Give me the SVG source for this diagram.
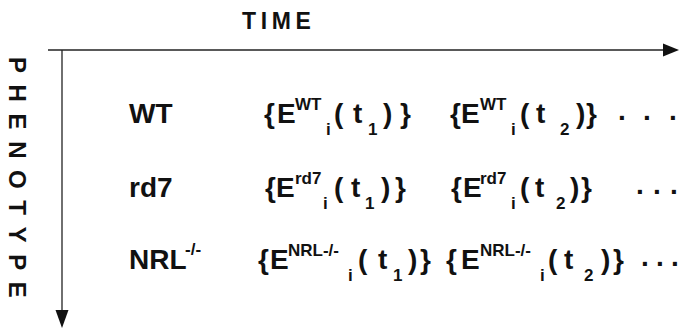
<svg xmlns="http://www.w3.org/2000/svg" width="679" height="329" viewBox="0 0 679 329">
<style>
text{font-family:"Liberation Sans",Arial,sans-serif;fill:#111;font-weight:bold}
.ax{font-size:23px}
.ph{font-size:24px}
.lab{font-size:28px}
.m{font-size:28px}
.s{font-size:17px}
.dot{font-size:28px}
.line{stroke:#222;stroke-width:1.3;fill:none}
.head{fill:#111}
</style>
<rect width="679" height="329" fill="#fff"/>
<g id="connectors">
<line class="line" x1="48" y1="50" x2="666" y2="50"/>
<polygon class="head" points="663,43.5 679,50 663,56.5"/>
<line class="line" x1="62" y1="50" x2="62" y2="313"/>
<polygon class="head" points="55.5,310 62,328 68.5,310"/>
</g>
<g id="time-axis">
<text class="ax" x="242" y="28.5" letter-spacing="4.6">TIME</text>
</g>
<g id="phenotype-axis">
<text class="ph" transform="translate(9,57) rotate(90)" letter-spacing="11.6">PHENOTYPE</text>
</g>
<g id="row-wt">
<text class="lab" x="129" y="123">WT</text>
<text y="123"><tspan class="m" x="264 277">{E</tspan><tspan class="s" x="295" y="110">WT</tspan><tspan class="s" x="326" y="135">i</tspan><tspan class="m" x="334 353" y="123">(t</tspan><tspan class="s" x="368" y="135">1</tspan><tspan class="m" x="383 400" y="123">)}</tspan></text>
<text y="123"><tspan class="m" x="450 461">{E</tspan><tspan class="s" x="480" y="110">WT</tspan><tspan class="s" x="511" y="135">i</tspan><tspan class="m" x="520 536" y="123">(t</tspan><tspan class="s" x="560" y="135">2</tspan><tspan class="m" x="576 586" y="123">)}</tspan></text>
<text class="dot" x="618 643 669" y="120">...</text>
</g>
<g id="row-rd7">
<text class="lab" x="129" y="197">rd7</text>
<text y="197"><tspan class="m" x="265 276">{E</tspan><tspan class="s" x="295" y="184">rd7</tspan><tspan class="s" x="323" y="209">i</tspan><tspan class="m" x="334 351" y="197">(t</tspan><tspan class="s" x="365" y="209">1</tspan><tspan class="m" x="381 395" y="197">)}</tspan></text>
<text y="197"><tspan class="m" x="451 463">{E</tspan><tspan class="s" x="480" y="184">rd7</tspan><tspan class="s" x="511" y="209">i</tspan><tspan class="m" x="520 535" y="197">(t</tspan><tspan class="s" x="556" y="209">2</tspan><tspan class="m" x="570 581" y="197">)}</tspan></text>
<text class="dot" x="636 653 670" y="194">...</text>
</g>
<g id="row-nrl">
<text y="269"><tspan class="lab" x="129">NRL</tspan><tspan class="s" x="185" y="255">-/-</tspan></text>
<text y="269"><tspan class="m" x="258 270">{E</tspan><tspan class="s" x="288" y="256">NRL-/-</tspan><tspan class="s" x="348" y="281">i</tspan><tspan class="m" x="358 378" y="269">(t</tspan><tspan class="s" x="393" y="281">1</tspan><tspan class="m" x="408 420" y="269">)}</tspan></text>
<text y="269"><tspan class="m" x="446 461">{E</tspan><tspan class="s" x="480" y="256">NRL-/-</tspan><tspan class="s" x="540" y="281">i</tspan><tspan class="m" x="548 564" y="269">(t</tspan><tspan class="s" x="584" y="281">2</tspan><tspan class="m" x="601 613" y="269">)}</tspan></text>
<text class="dot" x="641 656 671" y="266">...</text>
</g>
</svg>
